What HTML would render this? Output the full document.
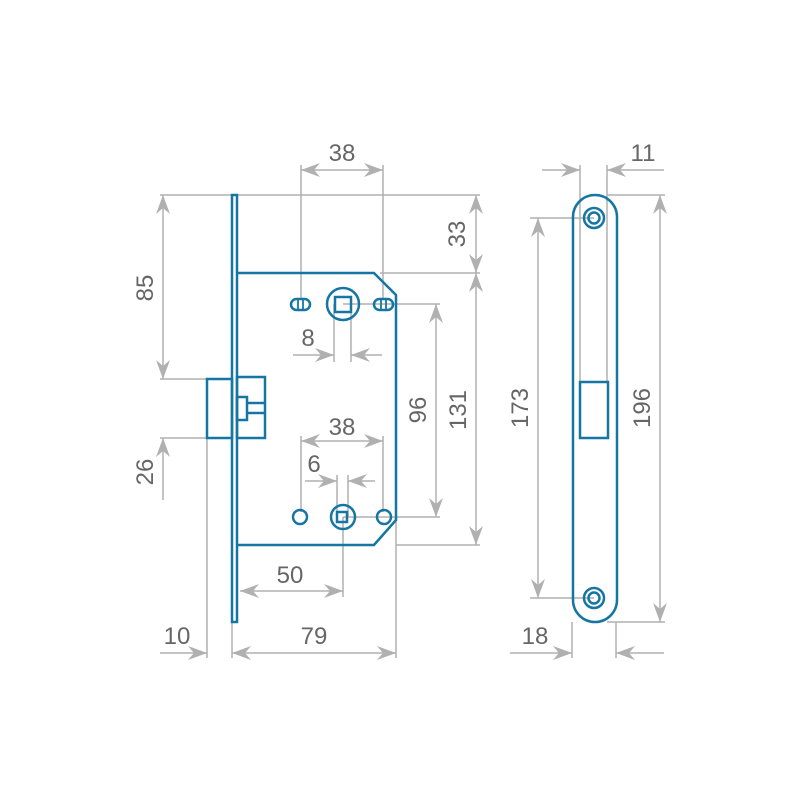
<!DOCTYPE html>
<html><head><meta charset="utf-8"><style>html,body{margin:0;padding:0;background:#fff}svg{display:block}</style></head><body>
<svg width="800" height="800" viewBox="0 0 800 800" xmlns="http://www.w3.org/2000/svg">
<defs>
<marker id="a" markerUnits="userSpaceOnUse" markerWidth="22" markerHeight="18" viewBox="-21 -9 22 18" refX="0" refY="0" orient="auto-start-reverse">
<path d="M0,0 L-19,-7 L-13,0 L-19,7 Z" fill="#b0b0b0"/>
</marker>
</defs>
<g stroke="#b0b0b0" stroke-width="1.5" fill="none">
<line x1="160" y1="195" x2="480" y2="195"/>
<line x1="380" y1="273" x2="480" y2="273"/>
<line x1="396" y1="545" x2="480" y2="545"/>
<line x1="343" y1="304" x2="440" y2="304"/>
<line x1="343" y1="517" x2="440" y2="517"/>
<line x1="160" y1="379" x2="232" y2="379"/>
<line x1="160" y1="438" x2="232" y2="438"/>
<line x1="301" y1="165" x2="301" y2="300"/>
<line x1="383" y1="165" x2="383" y2="300"/>
<line x1="334" y1="304" x2="334" y2="362"/>
<line x1="351" y1="304" x2="351" y2="362"/>
<line x1="301" y1="436" x2="301" y2="512"/>
<line x1="383" y1="436" x2="383" y2="512"/>
<line x1="337" y1="475" x2="337" y2="517"/>
<line x1="348" y1="475" x2="348" y2="517"/>
<line x1="343" y1="517" x2="343" y2="597"/>
<line x1="207" y1="438" x2="207" y2="658"/>
<line x1="232" y1="622" x2="232" y2="658"/>
<line x1="396" y1="520" x2="396" y2="658"/>
<line x1="301" y1="170" x2="383" y2="170" marker-start="url(#a)" marker-end="url(#a)"/>
<line x1="476" y1="195" x2="476" y2="273" marker-start="url(#a)" marker-end="url(#a)"/>
<line x1="476" y1="273" x2="476" y2="545" marker-start="url(#a)" marker-end="url(#a)"/>
<line x1="436" y1="304" x2="436" y2="517" marker-start="url(#a)" marker-end="url(#a)"/>
<line x1="163" y1="195" x2="163" y2="379" marker-start="url(#a)" marker-end="url(#a)"/>
<line x1="163" y1="500" x2="163" y2="438" marker-end="url(#a)"/>
<line x1="293" y1="355" x2="334" y2="355" marker-end="url(#a)"/>
<line x1="382" y1="355" x2="351" y2="355" marker-end="url(#a)"/>
<line x1="301" y1="441" x2="383" y2="441" marker-start="url(#a)" marker-end="url(#a)"/>
<line x1="305" y1="481" x2="337" y2="481" marker-end="url(#a)"/>
<line x1="375" y1="481" x2="348" y2="481" marker-end="url(#a)"/>
<line x1="240" y1="591" x2="343" y2="591" marker-start="url(#a)" marker-end="url(#a)"/>
<line x1="160" y1="653" x2="207" y2="653" marker-end="url(#a)"/>
<line x1="232" y1="653" x2="396" y2="653" marker-start="url(#a)" marker-end="url(#a)"/>
<line x1="580" y1="165" x2="580" y2="382"/>
<line x1="607" y1="165" x2="607" y2="382"/>
<line x1="542" y1="170" x2="580" y2="170" marker-end="url(#a)"/>
<line x1="664" y1="170" x2="607" y2="170" marker-end="url(#a)"/>
<line x1="607" y1="195" x2="665" y2="195"/>
<line x1="607" y1="622" x2="665" y2="622"/>
<line x1="660" y1="195" x2="660" y2="622" marker-start="url(#a)" marker-end="url(#a)"/>
<line x1="530" y1="218" x2="594" y2="218"/>
<line x1="530" y1="598" x2="594" y2="598"/>
<line x1="538" y1="218" x2="538" y2="598" marker-start="url(#a)" marker-end="url(#a)"/>
<line x1="572" y1="622" x2="572" y2="658"/>
<line x1="616" y1="622" x2="616" y2="658"/>
<line x1="510" y1="653" x2="572" y2="653" marker-end="url(#a)"/>
<line x1="664" y1="653" x2="616" y2="653" marker-end="url(#a)"/>
</g>
<g stroke="#1576a3" stroke-width="2.5" fill="none">
<rect x="232" y="195" width="5" height="427"/>
<path d="M237,273 L374,273 L396,295 L396,520 L374,545 L237,545"/>
<rect x="207" y="379" width="25" height="59"/>
<rect x="237" y="377" width="28" height="61"/>
<rect x="237" y="397" width="10" height="23"/>
<path d="M247,403 L265,403 M247,413 L265,413"/>
<rect x="291" y="299" width="19" height="11" rx="5.5"/>
<rect x="374" y="299" width="19" height="11" rx="5.5"/>
<path d="M298,299 V310 M303,299 V310 M381,299 V310 M386,299 V310" stroke-width="1.8"/>
<circle cx="343" cy="304" r="16"/>
<rect x="335" y="297" width="16" height="15"/>
<circle cx="300" cy="517" r="7"/>
<circle cx="384" cy="517" r="7"/>
<circle cx="343" cy="517" r="12"/>
<rect x="337" y="512" width="10" height="10"/>
<rect x="573" y="195" width="44" height="427" rx="22"/>
<circle cx="594" cy="218" r="10"/>
<circle cx="594" cy="218" r="5.5"/>
<circle cx="594" cy="598" r="10"/>
<circle cx="594" cy="598" r="5.5"/>
<rect x="580" y="382" width="28" height="56"/>
</g>
<g fill="#666" font-family="Liberation Sans, sans-serif" font-size="24" text-anchor="middle">
<text x="342" y="161">38</text>
<text x="308" y="346">8</text>
<text x="342" y="435">38</text>
<text x="314" y="472">6</text>
<text x="290" y="583">50</text>
<text x="177" y="644">10</text>
<text x="314" y="644">79</text>
<text x="643" y="161">11</text>
<text x="535" y="644">18</text>
<text transform="translate(465,234) rotate(-90)">33</text>
<text transform="translate(466,410) rotate(-90)">131</text>
<text transform="translate(426,410) rotate(-90)">96</text>
<text transform="translate(153,288) rotate(-90)">85</text>
<text transform="translate(153,472) rotate(-90)">26</text>
<text transform="translate(528,408) rotate(-90)">173</text>
<text transform="translate(650,408) rotate(-90)">196</text>
</g>
</svg>
</body></html>
